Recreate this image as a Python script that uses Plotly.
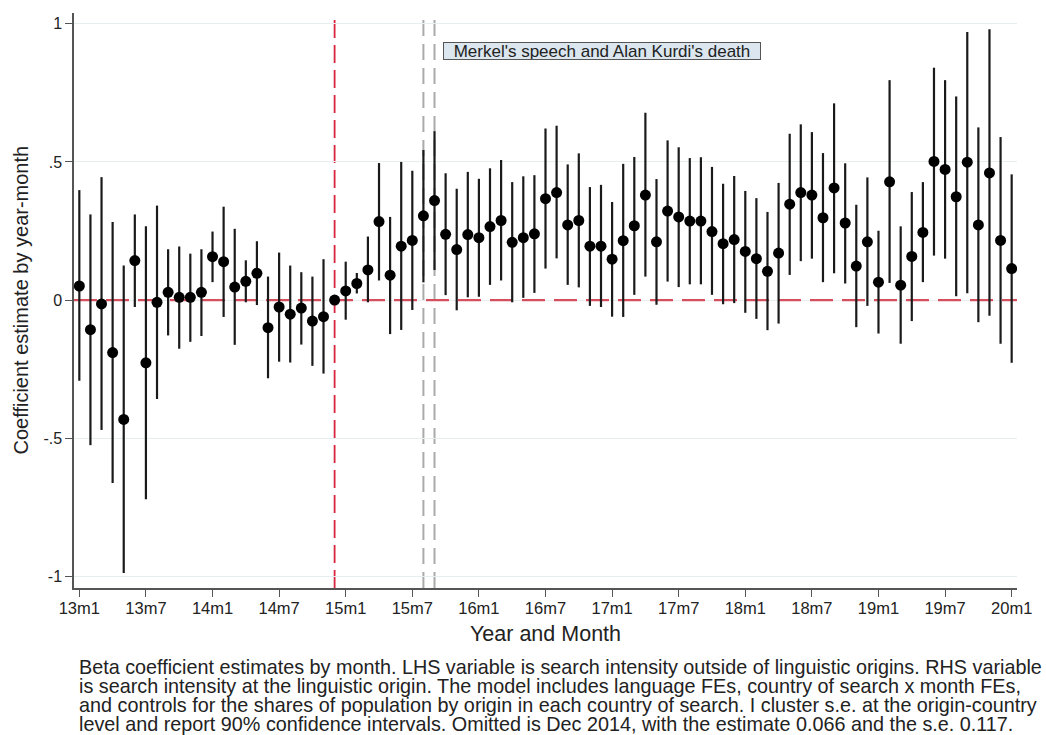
import plotly.graph_objects as go

# ---- data ----
months = [f"{y}m{m}" for y in range(13, 21) for m in range(1, 13)][:85]

tick_labels = ["13m1", "13m7", "14m1", "14m7", "15m1", "15m7", "16m1", "16m7",
               "17m1", "17m7", "18m1", "18m7", "19m1", "19m7", "20m1"]

estimate = [
    0.051, -0.107, -0.014, -0.190, -0.432, 0.143, -0.227, -0.008, 0.028, 0.010, 0.010, 0.028,
    0.157, 0.139, 0.047, 0.068, 0.097, -0.100, -0.025, -0.051, -0.029, -0.076, -0.060, 0.000,
    0.033, 0.060, 0.109, 0.284, 0.090, 0.195, 0.216, 0.305, 0.360, 0.238, 0.183, 0.237,
    0.226, 0.266, 0.288, 0.209, 0.226, 0.240, 0.367, 0.389, 0.272, 0.288, 0.195, 0.195,
    0.148, 0.215, 0.269, 0.380, 0.211, 0.322, 0.301, 0.286, 0.286, 0.248, 0.204, 0.219,
    0.176, 0.150, 0.104, 0.170, 0.347, 0.389, 0.380, 0.298, 0.406, 0.279, 0.123, 0.211,
    0.065, 0.428, 0.054, 0.158, 0.245, 0.502, 0.473, 0.374, 0.499, 0.272, 0.460, 0.216,
    0.114,
]

ci_lower = [
    -0.292, -0.525, -0.470, -0.662, -0.988, -0.025, -0.721, -0.358, -0.128, -0.176, -0.151, -0.130,
    0.065, -0.061, -0.162, -0.008, -0.018, -0.283, -0.223, -0.226, -0.161, -0.238, -0.266, 0.000,
    -0.071, 0.024, -0.008, 0.071, -0.123, -0.108, -0.036, 0.064, 0.109, 0.018, -0.037, 0.010,
    0.012, 0.055, 0.071, -0.008, 0.008, 0.026, 0.114, 0.151, 0.055, 0.046, -0.021, -0.025,
    -0.060, -0.061, 0.019, 0.085, -0.017, 0.067, 0.047, 0.057, 0.057, 0.019, -0.015, -0.011,
    -0.046, -0.068, -0.109, -0.085, 0.091, 0.141, 0.150, 0.065, 0.097, 0.060, -0.098, -0.021,
    -0.121, 0.062, -0.158, -0.076, 0.065, 0.161, 0.150, 0.014, 0.025, -0.080, -0.057, -0.158,
    -0.227,
]

ci_upper = [
    0.398, 0.310, 0.445, 0.283, 0.125, 0.310, 0.267, 0.342, 0.184, 0.194, 0.168, 0.184,
    0.248, 0.338, 0.258, 0.144, 0.213, 0.085, 0.172, 0.125, 0.101, 0.085, 0.148, 0.000,
    0.139, 0.098, 0.230, 0.496, 0.301, 0.500, 0.468, 0.543, 0.611, 0.459, 0.403, 0.464,
    0.439, 0.477, 0.507, 0.427, 0.448, 0.452, 0.621, 0.631, 0.491, 0.531, 0.409, 0.417,
    0.355, 0.493, 0.518, 0.678, 0.438, 0.578, 0.553, 0.514, 0.517, 0.482, 0.421, 0.449,
    0.395, 0.369, 0.319, 0.424, 0.602, 0.636, 0.608, 0.532, 0.712, 0.495, 0.345, 0.444,
    0.251, 0.796, 0.267, 0.391, 0.427, 0.841, 0.796, 0.737, 0.970, 0.625, 0.980, 0.590,
    0.455,
]

y_tick_vals = [-1, -0.5, 0, 0.5, 1]
y_tick_text = ["-1", "-.5", "0", ".5", "1"]

omitted_month = "14m12"
event_months = ["15m8", "15m9"]
event_label = "Merkel's speech and Alan Kurdi's death"

caption_lines = [
    "Beta coefficient estimates by month. LHS variable is search intensity outside of linguistic origins. RHS variable",
    "is search intensity at the linguistic origin. The model includes language FEs, country of search x month FEs,",
    "and controls for the shares of population by origin in each country of search. I cluster s.e. at the origin-country",
    "level and report 90% confidence intervals. Omitted is Dec 2014, with the estimate 0.066 and the s.e. 0.117.",
]

# ---- figure ----
FONT = "Liberation Sans, Arial, sans-serif"
TXT = "#222222"

err_plus = [u - e for u, e in zip(ci_upper, estimate)]
err_minus = [e - l for e, l in zip(estimate, ci_lower)]

fig = go.Figure()

# horizontal reference line at zero (base subplot, drawn beneath the estimates)
fig.add_trace(go.Scatter(
    x=[0, 1], y=[0, 0], xaxis="x", yaxis="y", mode="lines",
    line=dict(color="#d4505f", width=2.2, dash="23px,9px"),
    showlegend=False, hoverinfo="skip",
))

# estimates with 90% CIs (overlay subplot, drawn on top)
fig.add_trace(go.Scatter(
    x=months, y=estimate, xaxis="x2", yaxis="y", mode="markers",
    marker=dict(size=11, color="black"),
    error_y=dict(type="data", symmetric=False, array=err_plus, arrayminus=err_minus,
                 width=0, thickness=2.2, color="#1a1a1a"),
    showlegend=False, hoverinfo="x+y",
))

shapes = [
    dict(type="line", xref="x2", x0=omitted_month, x1=omitted_month, yref="paper", y0=0, y1=1,
         line=dict(color="#d7263d", width=1.8, dash="18px,7px"), layer="below"),
]
for m in event_months:
    shapes.append(dict(type="line", xref="x2", x0=m, x1=m, yref="paper", y0=0, y1=1,
                       line=dict(color="#aaaaaa", width=2, dash="16px,8px"), layer="below"))

annotations = [
    dict(text=event_label, xref="paper", yref="y", x=0.5594, y=0.902,
         xanchor="center", yanchor="middle", showarrow=False,
         font=dict(family=FONT, size=17, color=TXT),
         bgcolor="#dbe6ee", bordercolor="#555555", borderwidth=1, borderpad=0,
         width=316, height=16),
    dict(text="Year and Month", xref="paper", yref="paper", x=0.5, y=0, yshift=-46,
         xanchor="center", yanchor="middle", showarrow=False,
         font=dict(family=FONT, size=21.5, color=TXT)),
    dict(text="Coefficient estimate by year-month", xref="paper", yref="paper", x=0, xshift=-54,
         y=0.5, xanchor="center", yanchor="middle", textangle=-90, showarrow=False,
         font=dict(family=FONT, size=20, color=TXT)),
]
for i, line in enumerate(caption_lines):
    annotations.append(dict(text=line, xref="paper", yref="paper", x=0, xshift=3.3,
                            y=0, yshift=-(78.5 + 19 * i), xanchor="left", yanchor="middle",
                            showarrow=False, font=dict(family=FONT, size=19.8, color=TXT)))

fig.update_layout(
    width=1046, height=735,
    margin=dict(l=74, r=29, t=13, b=147),
    paper_bgcolor="white", plot_bgcolor="white",
    font=dict(family=FONT, color=TXT),
    shapes=shapes, annotations=annotations,
    xaxis=dict(range=[0, 1], visible=False, fixedrange=True),
    xaxis2=dict(overlaying="x", side="bottom", anchor="y",
                type="category", categoryorder="array", categoryarray=months,
                range=[-0.48, 84.48], tickmode="array", tickvals=tick_labels, ticktext=tick_labels,
                ticks="outside", ticklen=7, tickcolor="#555555", tickwidth=1.2,
                showline=True, linecolor="#555555", linewidth=1.5, mirror=False,
                showgrid=False, zeroline=False, ticklabelstandoff=-3,
                tickfont=dict(family=FONT, size=16.5, color=TXT)),
    yaxis=dict(range=[-1.042, 1.039], tickmode="array", tickvals=y_tick_vals, ticktext=y_tick_text,
               ticks="outside", ticklen=7, tickcolor="#555555", tickwidth=1.2,
               showline=True, linecolor="#555555", linewidth=1.5,
               showgrid=True, gridcolor="#e6eef0", gridwidth=1, zeroline=False,
               tickfont=dict(family=FONT, size=16, color=TXT)),
)

fig.write_html("out.html", config={"displayModeBar": False},
               post_script="document.body.style.margin='0';document.body.style.overflow='hidden';")
